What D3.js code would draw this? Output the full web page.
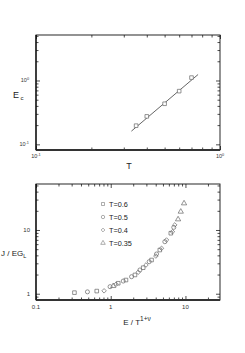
<!DOCTYPE html>
<html>
<head>
<meta charset="utf-8">
<script src="https://cdn.jsdelivr.net/npm/d3@7"></script>
<style>
body { margin: 0; background: #fff; }
svg { display: block; font-family: "Liberation Sans", Arial, sans-serif; }
.axis path { display: none; }
.axis line { stroke: #222; stroke-width: 0.8; }
</style>
</head>
<body>
<div id="chart-area"></div>
<script>
// top panel: critical field vs temperature
const topT = [0.35, 0.4, 0.5, 0.6, 0.7]
const topEc = [0.196, 0.274, 0.432, 0.681, 1.11]
const fitT = [0.33, 0.76]
const fitEc = [0.161, 1.24]

// bottom panel: scaling collapse, one series per temperature
const legendLabels = ["T=0.6", "T=0.5", "T=0.4", "T=0.35"]
const symbols = [d3.symbolSquare, d3.symbolCircle, d3.symbolDiamond2, d3.symbolTriangle]
const s06x = [0.327, 0.65, 1.26, 1.6, 2.11, 2.72, 3.52, 4.54, 6.37]
const s06y = [1.04, 1.10, 1.46, 1.64, 1.97, 2.56, 3.38, 4.85, 8.9]
const s05x = [0.488, 0.98, 1.47, 1.9, 2.46, 3.27, 4.1, 5.3, 6.98]
const s05y = [1.07, 1.29, 1.58, 1.85, 2.36, 3.18, 4.2, 6.55, 11.0]
const s04x = [0.815, 1.18, 2.33, 2.96, 4.02, 4.79, 5.58, 6.7, 7.2]
const s04y = [1.11, 1.41, 2.17, 2.82, 3.9, 5.16, 6.97, 9.4, 12.0]
const s035x = [1.08, 7.97, 8.66, 9.58]
const s035y = [1.32, 14.7, 19.4, 26.2]
const seriesX = [s06x, s05x, s04x, s035x]
const seriesY = [s06y, s05y, s04y, s035y]

const svg = d3.select("#chart-area").append("svg")
  .attr("width", 245)
  .attr("height", 353)

// generic inward-ticked frame
function frame(g, x, y, xt, yt, W, H) {
  const tickGroup = (axis, tf) => g.append("g").attr("class", "axis").attr("transform", tf).call(axis)
  tickGroup(d3.axisBottom(x).tickValues(xt.major).tickSize(-4).tickFormat(""), `translate(0,${H})`)
  tickGroup(d3.axisBottom(x).tickValues(xt.minor).tickSize(-2.5).tickFormat(""), `translate(0,${H})`)
  tickGroup(d3.axisTop(x).tickValues(xt.major).tickSize(-4).tickFormat(""), "translate(0,0)")
  tickGroup(d3.axisTop(x).tickValues(xt.minor).tickSize(-2.5).tickFormat(""), "translate(0,0)")
  tickGroup(d3.axisLeft(y).tickValues(yt.major).tickSize(-4).tickFormat(""), "translate(0,0)")
  tickGroup(d3.axisLeft(y).tickValues(yt.minor).tickSize(-2.5).tickFormat(""), "translate(0,0)")
  tickGroup(d3.axisRight(y).tickValues(yt.major).tickSize(-4).tickFormat(""), `translate(${W},0)`)
  tickGroup(d3.axisRight(y).tickValues(yt.minor).tickSize(-2.5).tickFormat(""), `translate(${W},0)`)

  g.append("rect")
    .attr("width", W).attr("height", H)
    .attr("fill", "none").attr("stroke", "#111").attr("stroke-width", 0.9)
  g.append("line")
    .attr("x1", 0).attr("x2", W).attr("y1", H).attr("y2", H)
    .attr("stroke", "#333").attr("stroke-width", 1.8)
  g.append("line")
    .attr("x1", 0).attr("x2", 0).attr("y1", 0).attr("y2", H)
    .attr("stroke", "#111").attr("stroke-width", 1.3)
}

function powLabel(g, px, py, exp, anchor) {
  const t = g.append("text")
    .attr("x", px).attr("y", py)
    .attr("font-size", "5.5px")
    .attr("text-anchor", anchor)
    .attr("fill", "#333")
  t.append("tspan").text("10")
  t.append("tspan").attr("dy", -2.5).attr("font-size", "3.8px").text(exp)
}

// ---------- top panel ----------
const W1 = 184, H1 = 115
const g1 = svg.append("g").attr("transform", "translate(36, 35)")
const x1 = d3.scaleLog().domain([0.1, 1]).range([0, W1])
const y1 = d3.scaleLog().domain([0.0815, 5.16]).range([H1, 0])

frame(g1, x1, y1,
  { major: [0.1, 1], minor: d3.range(2, 10).map(d => d / 10) },
  { major: [0.1, 1], minor: [0.2, 0.3, 0.4, 0.5, 0.6, 0.7, 0.8, 0.9, 2, 3, 4, 5] },
  W1, H1)

powLabel(g1, x1(0.1), H1 + 8, "-1", "middle")
powLabel(g1, x1(1), H1 + 8, "0", "middle")
powLabel(g1, -7, y1(1) + 2, "0", "end")
powLabel(g1, -7, y1(0.1) + 2, "-1", "end")

g1.append("path")
  .datum(fitT.map((t, i) => [t, fitEc[i]]))
  .attr("fill", "none").attr("stroke", "#222").attr("stroke-width", 0.7)
  .attr("d", d3.line().x(d => x1(d[0])).y(d => y1(d[1])))

g1.selectAll(".pt")
  .data(topT.map((t, i) => [t, topEc[i]]))
  .enter().append("path")
  .attr("transform", d => `translate(${x1(d[0])},${y1(d[1])})`)
  .attr("d", d3.symbol(d3.symbolSquare, 13))
  .attr("fill", "#fff").attr("stroke", "#666").attr("stroke-width", 0.7)

// y label E_c
g1.append("text")
  .attr("x", -23).attr("y", 63)
  .attr("font-size", "9px").attr("fill", "#222")
  .call(t => {
    t.append("tspan").text("E")
    t.append("tspan").attr("font-size", "6px").attr("dx", 1.5).attr("dy", 1.5).text("c")
  })

g1.append("text")
  .attr("x", 93).attr("y", 134)
  .attr("font-size", "9px").attr("text-anchor", "middle").attr("fill", "#222")
  .text("T")

// ---------- bottom panel ----------
const W2 = 184, H2 = 116
const g2 = svg.append("g").attr("transform", "translate(36, 184)")
const x2 = d3.scaleLog().domain([0.1, 29]).range([0, W2])
const y2 = d3.scaleLog().domain([0.797, 52.7]).range([H2, 0])

frame(g2, x2, y2,
  { major: [0.1, 1, 10], minor: [0.2, 0.3, 0.4, 0.5, 0.6, 0.7, 0.8, 0.9, 2, 3, 4, 5, 6, 7, 8, 9, 20] },
  { major: [1, 10], minor: [0.8, 0.9, 2, 3, 4, 5, 6, 7, 8, 9, 20, 30, 40, 50] },
  W2, H2)

const xTickLabels = ["0.1", "1", "10"]
const xTickVals = [0.1, 1, 10]
g2.selectAll(".xl").data(xTickVals).enter().append("text")
  .attr("x", d => x2(d)).attr("y", H2 + 9)
  .attr("font-size", "6px").attr("text-anchor", "middle").attr("fill", "#333")
  .text((d, i) => xTickLabels[i])

const yTickLabels = ["1", "10"]
const yTickVals = [1, 10]
g2.selectAll(".yl").data(yTickVals).enter().append("text")
  .attr("x", -6).attr("y", d => y2(d) + 2)
  .attr("font-size", "6px").attr("text-anchor", "end").attr("fill", "#333")
  .text((d, i) => yTickLabels[i])

seriesX.forEach((xs, k) => {
  g2.selectAll(".s" + k)
    .data(xs.map((v, i) => [v, seriesY[k][i]]))
    .enter().append("path")
    .attr("transform", d => `translate(${x2(d[0])},${y2(d[1])})`)
    .attr("d", d3.symbol(symbols[k], k === 3 ? 12 : 13))
    .attr("fill", "none").attr("stroke", "#666").attr("stroke-width", 0.7)
})

const legend = g2.append("g").attr("transform", "translate(67, 20)")
legendLabels.forEach((lab, i) => {
  const row = legend.append("g").attr("transform", `translate(0, ${i * 13})`)
  row.append("path")
    .attr("d", d3.symbol(symbols[i], 9))
    .attr("fill", "none").attr("stroke", "#777").attr("stroke-width", 0.6)
  row.append("text")
    .attr("x", 6).attr("y", 2.5)
    .attr("font-size", "7.3px").attr("fill", "#222")
    .text(lab)
})

g2.append("text")
  .attr("x", -35).attr("y", 72)
  .attr("font-size", "8px").attr("fill", "#222")
  .call(t => {
    t.append("tspan").text("J / EG")
    t.append("tspan").attr("font-size", "5.5px").attr("dy", 2).text("L")
  })

g2.append("text")
  .attr("x", 101).attr("y", 141)
  .attr("font-size", "8px").attr("text-anchor", "middle").attr("fill", "#222")
  .call(t => {
    t.append("tspan").text("E / T")
    t.append("tspan").attr("font-size", "6.5px").attr("dy", -4).text("1+ν")
  })
</script>
</body>
</html>
